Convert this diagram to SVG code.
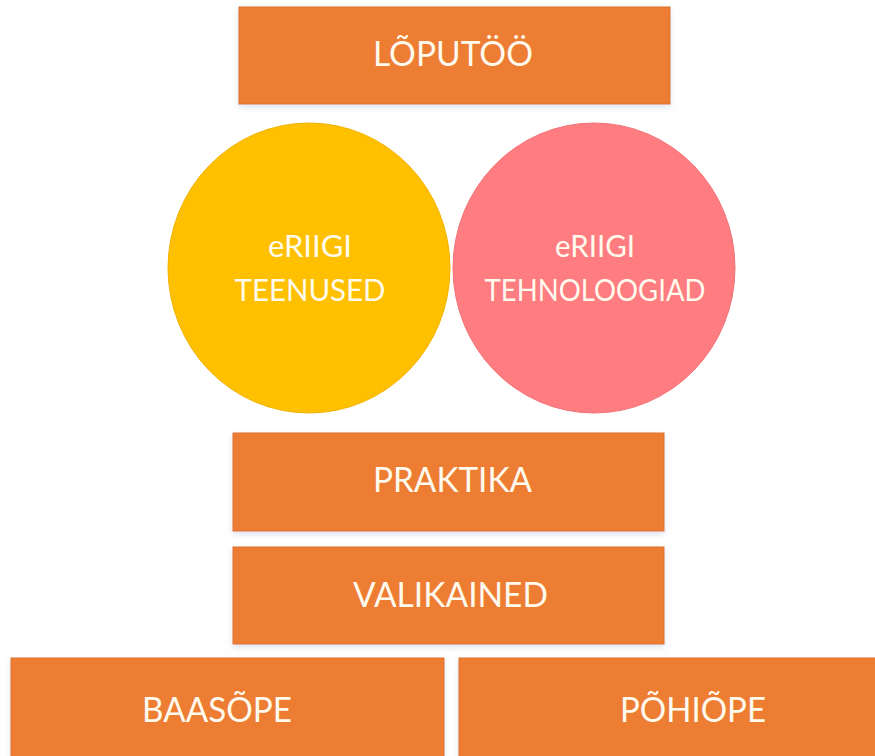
<svg xmlns="http://www.w3.org/2000/svg" width="875" height="756" viewBox="0 0 875 756">
  <style>
    .box { fill: #ED7D31; stroke: #DE7028; stroke-width: 1; filter: url(#sh); }
    .lbl { font-family: Lato, "Open Sans", "Liberation Sans", sans-serif; fill: #FFFAEE; text-anchor: middle; }
    .big { font-size: 35px; }
    .small { font-size: 30px; }
  </style>
  <defs>
    <filter id="sh" x="-5%" y="-10%" width="110%" height="130%">
      <feDropShadow dx="0" dy="3" stdDeviation="3" flood-color="#9DB3CC" flood-opacity="0.35"/>
    </filter>
  </defs>
  <rect width="875" height="756" fill="#FFFFFF"/>

  <g id="loputoo">
    <rect class="box" x="239" y="7" width="431" height="97"/>
    <text class="lbl big" x="453" y="66" textLength="160" lengthAdjust="spacingAndGlyphs">LÕPUTÖÖ</text>
  </g>

  <g id="teenused">
    <ellipse cx="309" cy="268" rx="141" ry="145" fill="#FFC000" stroke="#F2B200" stroke-width="1"/>
    <text class="lbl small" x="310" y="257" textLength="84" lengthAdjust="spacingAndGlyphs">eRIIGI</text>
    <text class="lbl small" x="310" y="301" textLength="151" lengthAdjust="spacingAndGlyphs">TEENUSED</text>
  </g>

  <g id="tehnoloogiad">
    <ellipse cx="594" cy="268" rx="141" ry="145" fill="#FF7C80" stroke="#F27478" stroke-width="1"/>
    <text class="lbl small" x="595" y="257" textLength="80" lengthAdjust="spacingAndGlyphs">eRIIGI</text>
    <text class="lbl small" x="595" y="301" textLength="221" lengthAdjust="spacingAndGlyphs">TEHNOLOOGIAD</text>
  </g>

  <g id="praktika">
    <rect class="box" x="233" y="433" width="431" height="98"/>
    <text class="lbl big" x="452.5" y="492" textLength="159" lengthAdjust="spacingAndGlyphs">PRAKTIKA</text>
  </g>

  <g id="valikained">
    <rect class="box" x="233" y="547" width="431" height="97"/>
    <text class="lbl big" x="450.5" y="607" textLength="195" lengthAdjust="spacingAndGlyphs">VALIKAINED</text>
  </g>

  <g id="baasope">
    <rect class="box" x="11" y="658" width="433" height="110"/>
    <text class="lbl big" x="217" y="722" textLength="150" lengthAdjust="spacingAndGlyphs">BAASÕPE</text>
  </g>

  <g id="pohiope">
    <rect class="box" x="459" y="658" width="430" height="110"/>
    <text class="lbl big" x="693" y="722" textLength="146" lengthAdjust="spacingAndGlyphs">PÕHIÕPE</text>
  </g>

  <g id="connectors"></g>
</svg>
